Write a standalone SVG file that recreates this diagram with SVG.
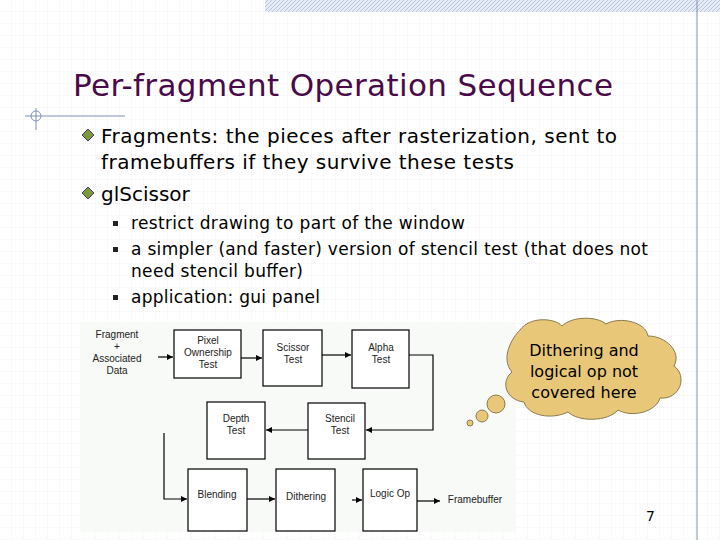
<svg xmlns="http://www.w3.org/2000/svg" width="720" height="540" viewBox="0 0 720 540">
<defs>
<pattern id="grid" width="12" height="12" patternUnits="userSpaceOnUse"><path d="M12 0V12H0" fill="none" stroke="#dcdcdc" stroke-width="0.6" stroke-dasharray="1 1"/></pattern>
<pattern id="hatch" width="4" height="4" patternUnits="userSpaceOnUse"><rect width="4" height="4" fill="#e6ecf5"/><path d="M0 4L4 0" stroke="#b8c4dc" stroke-width="1"/></pattern>
<marker id="ar" viewBox="0 0 10 10" refX="10" refY="5" markerWidth="5" markerHeight="5" orient="auto"><path d="M0 0L10 5L0 10z" fill="#000"/></marker>
</defs>
<style>
.t{font-family:"DejaVu Sans",Verdana,sans-serif;fill:#000}
.d{font-family:"Liberation Sans",Arial,sans-serif;font-size:10px;fill:#222;text-anchor:middle}
.b{fill:#fff;stroke:#000;stroke-width:1.2}
.c{fill:none;stroke:#000;stroke-width:1.2;marker-end:url(#ar)}
</style>
<rect width="720" height="540" fill="#fff"/>
<rect width="720" height="540" fill="url(#grid)"/>
<rect x="265" y="0" width="455" height="12" fill="url(#hatch)"/>
<line x1="697" y1="0" x2="697" y2="540" stroke="#8090b8"/>
<line x1="25" y1="116" x2="125" y2="116" stroke="#8090b8"/>
<circle cx="36" cy="116" r="5" fill="none" stroke="#8090b8"/>
<line x1="36" y1="108" x2="36" y2="130" stroke="#8090b8"/>
<text x="73" y="96" font-family="DejaVu Sans,Verdana,sans-serif" font-size="31" fill="#4a0a4a" textLength="540">Per-fragment Operation Sequence</text>
<path d="M88 129l6 6-6 6-6-6z" fill="#7a9a3a" stroke="#4a3a7a"/>
<text class="t" x="101" y="143" font-size="20" textLength="516">Fragments: the pieces after rasterization, sent to</text>
<text class="t" x="101" y="169" font-size="20" textLength="413">framebuffers if they survive these tests</text>
<path d="M88 187l6 6-6 6-6-6z" fill="#7a9a3a" stroke="#4a3a7a"/>
<text class="t" x="101" y="201" font-size="20">glScissor</text>
<rect x="113" y="221" width="5" height="5" fill="#222"/>
<text class="t" x="131" y="229" font-size="17" textLength="334">restrict drawing to part of the window</text>
<rect x="113" y="247" width="5" height="5" fill="#222"/>
<text class="t" x="131" y="255" font-size="17" textLength="517">a simpler (and faster) version of stencil test (that does not</text>
<text class="t" x="131" y="277" font-size="17" textLength="172">need stencil buffer)</text>
<rect x="113" y="295" width="5" height="5" fill="#222"/>
<text class="t" x="131" y="303" font-size="17" textLength="189">application: gui panel</text>
<rect x="80" y="322" width="436" height="210" fill="#f8faf8"/>
<g id="input"><text class="d" x="117" y="338">Fragment</text><text class="d" x="117" y="350">+</text><text class="d" x="117" y="362">Associated</text><text class="d" x="117" y="374">Data</text></g>
<g id="pixel"><rect class="b" x="174" y="330" width="67" height="48"/><text class="d" x="208" y="344">Pixel</text><text class="d" x="208" y="356">Ownership</text><text class="d" x="208" y="368">Test</text></g>
<g id="scissor"><rect class="b" x="263" y="330" width="59" height="56"/><text class="d" x="293" y="351">Scissor</text><text class="d" x="293" y="363">Test</text></g>
<g id="alpha"><rect class="b" x="352" y="330" width="57" height="58"/><text class="d" x="381" y="351">Alpha</text><text class="d" x="381" y="363">Test</text></g>
<g id="stencil"><rect class="b" x="308" y="403" width="57" height="56"/><text class="d" x="340" y="422">Stencil</text><text class="d" x="340" y="434">Test</text></g>
<g id="depth"><rect class="b" x="207" y="402" width="58" height="57"/><text class="d" x="236" y="422">Depth</text><text class="d" x="236" y="434">Test</text></g>
<g id="blending"><rect class="b" x="188" y="469" width="59" height="62"/><text class="d" x="217" y="498">Blending</text></g>
<g id="dithering"><rect class="b" x="276" y="469" width="59" height="62"/><text class="d" x="306" y="500">Dithering</text></g>
<g id="logicop"><rect class="b" x="363" y="469" width="54" height="62"/><text class="d" x="390" y="497">Logic Op</text></g>
<g id="fb"><text class="d" x="475" y="503">Framebuffer</text></g>
<g id="connectors">
<path class="c" d="M158 357H173"/>
<path class="c" d="M241 358H262"/>
<path class="c" d="M322 355H351"/>
<path class="c" d="M409 355H433V430H366"/>
<path class="c" d="M308 430H266"/>
<path class="c" d="M164 433V499H187"/>
<path class="c" d="M247 499H275"/>
<path class="c" d="M352 500H362"/>
<path class="c" d="M417 501H440"/>
</g>
<g id="cloud" fill="#e8c878" stroke="#8a7a50" stroke-width="1">
<circle cx="470" cy="423" r="3"/>
<circle cx="482" cy="416" r="6"/>
<circle cx="496" cy="404" r="9"/>
<path d="M520 330c10-14 35-12 42-4c10-10 35-10 44-2c14-8 40-2 42 12c18 0 34 16 26 30c14 10 6 34-14 32c-4 14-28 20-42 12c-10 12-40 12-50 2c-16 8-40 4-44-10c-18-2-24-20-12-30c-12-14 0-34 8-42z"/>
</g>
<g text-anchor="middle"><text class="t" x="584" y="356" font-size="16">Dithering and</text><text class="t" x="584" y="377" font-size="16">logical op not</text><text class="t" x="584" y="398" font-size="16">covered here</text></g>
<text class="t" x="655" y="521" font-size="14" text-anchor="end">7</text>
</svg>
